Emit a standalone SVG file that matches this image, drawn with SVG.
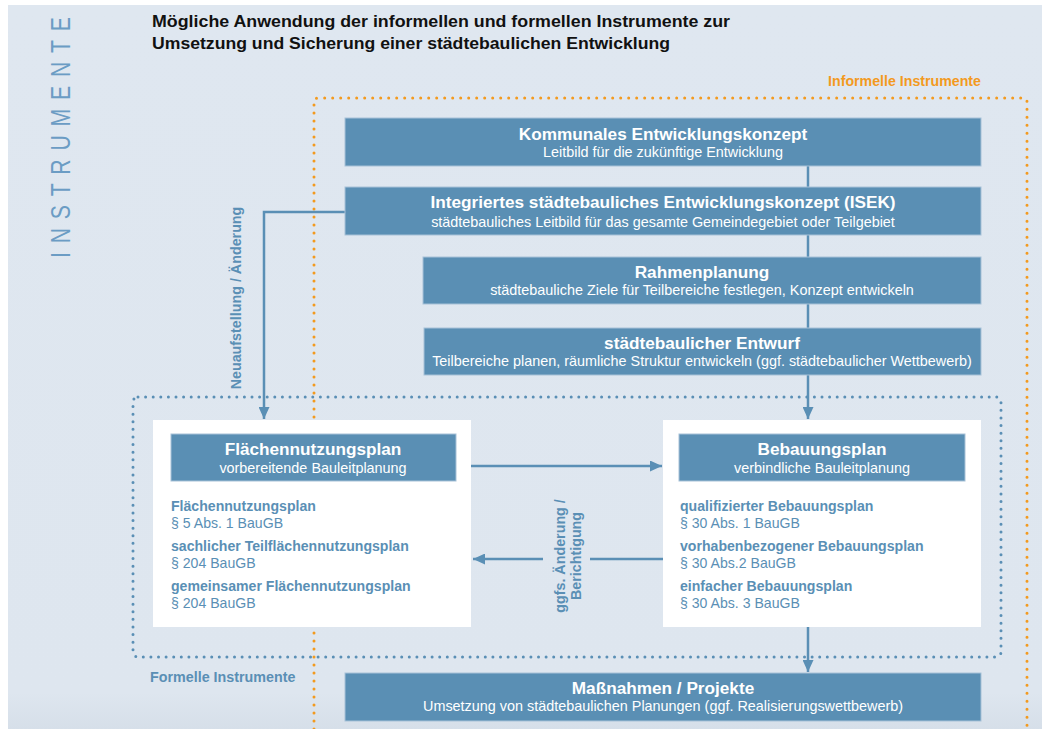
<svg xmlns="http://www.w3.org/2000/svg" width="1042" height="729" viewBox="0 0 1042 729">
<defs>
<linearGradient id="bg" x1="0" y1="0" x2="0" y2="1">
<stop offset="0" stop-color="#dfe7f0"/>
<stop offset="0.95" stop-color="#dee6ef"/>
<stop offset="1" stop-color="#d6dfe9"/>
</linearGradient>
<marker id="ah" markerUnits="userSpaceOnUse" markerWidth="13" markerHeight="11" refX="12" refY="5.5" orient="auto">
<path d="M0,0 L12,5.5 L0,11 Z" fill="#5a8fb5"/>
</marker>
<style>
.box{fill:#5a8fb4;stroke:#a7c1d7;stroke-width:1}
.wbox{fill:#ffffff}
.t{font-family:"Liberation Sans",Arial,Helvetica,sans-serif;font-size:17.2px;font-weight:bold;fill:#ffffff;text-anchor:middle}
.s{font-family:"Liberation Sans",Arial,Helvetica,sans-serif;font-size:14.4px;fill:#ffffff;text-anchor:middle}
.lb{font-family:"Liberation Sans",Arial,Helvetica,sans-serif;font-size:14.1px;font-weight:bold;fill:#5a8fb5}
.lr{font-family:"Liberation Sans",Arial,Helvetica,sans-serif;font-size:14.1px;fill:#5a8fb5}
.con{fill:none;stroke:#5a8fb5;stroke-width:2.5}
.dotO{fill:none;stroke:#f39a1e;stroke-width:3;stroke-linecap:round;stroke-dasharray:0 8}
.dotB{fill:none;stroke:#5a8fb5;stroke-width:3;stroke-linecap:round;stroke-dasharray:0 7.6}
</style>
</defs>
<rect x="0" y="0" width="1042" height="729" fill="#ffffff"/>
<rect x="8" y="5" width="1034" height="724" fill="url(#bg)"/>

<text transform="translate(70,258) rotate(-90) scale(0.76,1)" font-family="'Liberation Sans',Arial,sans-serif" font-size="28" fill="#6b9cc4" textLength="317" lengthAdjust="spacing">INSTRUMENTE</text>

<g id="title" font-family="'Liberation Sans',Arial,sans-serif" font-size="17" font-weight="bold" fill="#111111">
<text x="152" y="27" textLength="578" lengthAdjust="spacingAndGlyphs">Mögliche Anwendung der informellen und formellen Instrumente zur</text>
<text x="152" y="49" textLength="518" lengthAdjust="spacingAndGlyphs">Umsetzung und Sicherung einer städtebaulichen Entwicklung</text>
</g>

<g id="informelle">
<path class="dotO" d="M314,729 V102 Q314,98 318,98 H1023 Q1027,98 1027,102 V729"/>
<text x="981" y="86" font-family="'Liberation Sans',Arial,sans-serif" font-size="14.2" font-weight="bold" fill="#f39a1e" text-anchor="end">Informelle Instrumente</text>
</g>

<g id="formelle">
<rect class="dotB" x="133" y="397" width="868" height="260" rx="5"/>
<text x="150" y="682" class="lb" style="font-size:14.3px">Formelle Instrumente</text>
</g>

<g id="connectors">
<line class="con" x1="808" y1="166" x2="808" y2="419" marker-end="url(#ah)"/>
<line class="con" x1="808" y1="627" x2="808" y2="672" marker-end="url(#ah)"/>
<path class="con" d="M345,212 H264 V419" marker-end="url(#ah)"/>
<line class="con" x1="471" y1="466" x2="662" y2="466" marker-end="url(#ah)"/>
<line class="con" x1="663" y1="559" x2="590" y2="559"/>
<line class="con" x1="543" y1="559" x2="473" y2="559" marker-end="url(#ah)"/>
<text transform="translate(241,298) rotate(-90)" class="lb" style="font-size:14.3px" text-anchor="middle">Neuaufstellung / Änderung</text>
<text transform="translate(565,556) rotate(-90)" class="lb" style="font-size:14.3px" text-anchor="middle">ggfs. Änderung /</text>
<text transform="translate(581,556) rotate(-90)" class="lb" style="font-size:14.3px" text-anchor="middle">Berichtigung</text>
</g>

<g id="kommunal">
<rect class="box" x="345" y="118" width="636" height="48"/>
<text class="t" x="663" y="140">Kommunales Entwicklungskonzept</text>
<text class="s" x="663" y="157">Leitbild für die zukünftige Entwicklung</text>
</g>

<g id="isek">
<rect class="box" x="345" y="187" width="636" height="48"/>
<text class="t" x="663" y="208">Integriertes städtebauliches Entwicklungskonzept (ISEK)</text>
<text class="s" x="663" y="227">städtebauliches Leitbild für das gesamte Gemeindegebiet oder Teilgebiet</text>
</g>

<g id="rahmen">
<rect class="box" x="423" y="257" width="558" height="47"/>
<text class="t" x="702" y="278">Rahmenplanung</text>
<text class="s" x="702" y="295">städtebauliche Ziele für Teilbereiche festlegen, Konzept entwickeln</text>
</g>

<g id="entwurf">
<rect class="box" x="424" y="328" width="557" height="47"/>
<text class="t" x="702" y="349">städtebaulicher Entwurf</text>
<text class="s" x="702" y="366">Teilbereiche planen, räumliche Struktur entwickeln (ggf. städtebaulicher Wettbewerb)</text>
</g>

<g id="fnp">
<rect class="wbox" x="153" y="420" width="318" height="207"/>
<rect class="box" x="171" y="434" width="285" height="47"/>
<text class="t" x="313" y="455">Flächennutzungsplan</text>
<text class="s" x="313" y="473">vorbereitende Bauleitplanung</text>
<text class="lb" x="171" y="511">Flächennutzungsplan</text>
<text class="lr" x="171" y="528">§ 5 Abs. 1 BauGB</text>
<text class="lb" x="171" y="551">sachlicher Teilflächennutzungsplan</text>
<text class="lr" x="171" y="568">§ 204 BauGB</text>
<text class="lb" x="171" y="591">gemeinsamer Flächennutzungsplan</text>
<text class="lr" x="171" y="608">§ 204 BauGB</text>
</g>

<g id="bplan">
<rect class="wbox" x="663" y="420" width="318" height="207"/>
<rect class="box" x="679" y="434" width="286" height="47"/>
<text class="t" x="822" y="455">Bebauungsplan</text>
<text class="s" x="822" y="473">verbindliche Bauleitplanung</text>
<text class="lb" x="680" y="511">qualifizierter Bebauungsplan</text>
<text class="lr" x="680" y="528">§ 30 Abs. 1 BauGB</text>
<text class="lb" x="680" y="551">vorhabenbezogener Bebauungsplan</text>
<text class="lr" x="680" y="568">§ 30 Abs.2 BauGB</text>
<text class="lb" x="680" y="591">einfacher Bebauungsplan</text>
<text class="lr" x="680" y="608">§ 30 Abs. 3 BauGB</text>
</g>

<g id="massnahmen">
<rect class="box" x="345" y="673" width="636" height="48"/>
<text class="t" x="663" y="694">Maßnahmen / Projekte</text>
<text class="s" x="663" y="711">Umsetzung von städtebaulichen Planungen (ggf. Realisierungswettbewerb)</text>
</g>
</svg>
